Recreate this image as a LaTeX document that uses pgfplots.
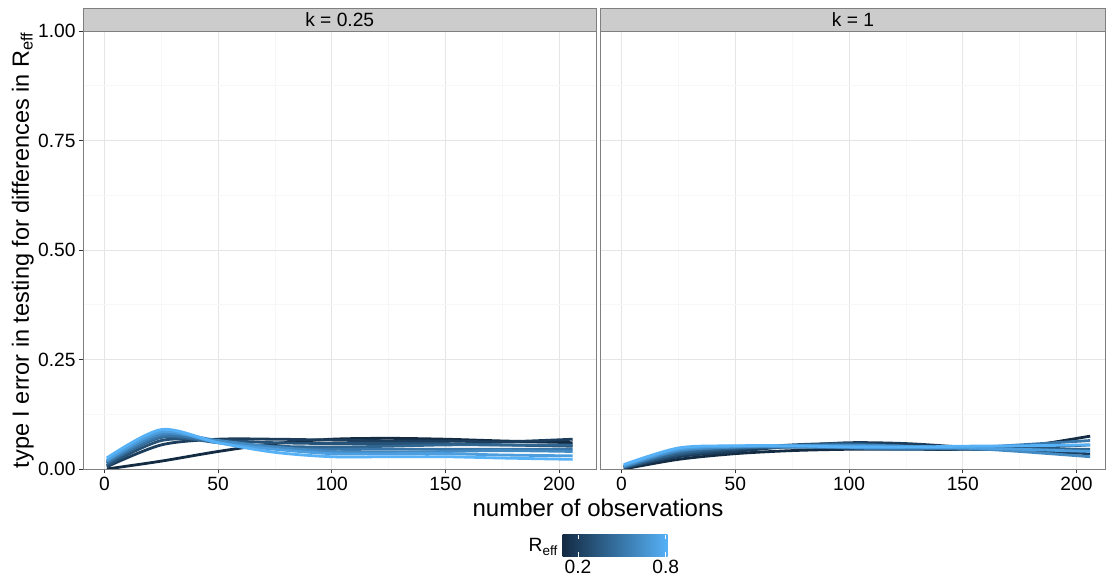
\documentclass[border=0pt]{standalone}
\usepackage{pgfplots}
\pgfplotsset{compat=1.18}
\usepackage{fontspec}
\setmainfont{Liberation Sans}
\definecolor{lo}{HTML}{132B43}
\definecolor{hi}{HTML}{56B1F7}
\colorlet{c1}{lo}
\colorlet{c2}{hi!14!lo}
\colorlet{c3}{hi!29!lo}
\colorlet{c4}{hi!43!lo}
\colorlet{c5}{hi!57!lo}
\colorlet{c6}{hi!71!lo}
\colorlet{c7}{hi!86!lo}
\colorlet{c8}{hi}
\definecolor{grey50}{HTML}{7F7F7F}
\definecolor{grey20}{HTML}{333333}
\definecolor{grey80}{HTML}{CCCCCC}
\definecolor{grey90}{HTML}{E5E5E5}
\definecolor{grey97}{HTML}{F7F7F7}
\begin{document}
\begin{tikzpicture}
\useasboundingbox (0pt,0pt) rectangle (1106pt,577pt);
\pgfplotsset{
  panel/.style={
    scale only axis, anchor=south west, height=438pt,
    xmin=-9.25, ymin=0, ymax=1,
    xtick={0,50,100,150,200}, ytick={0,0.25,0.5,0.75,1},
    minor tick num=1, grid=both,
    major grid style={color=grey90, line width=0.9pt},
    minor grid style={color=grey97, line width=0.5pt},
    axis line style={draw=grey50, line width=0.9pt},
    tick align=outside, major tick length=4.5pt, minor tick length=0pt,
    tick style={color=grey20, line width=0.9pt},
    xtick pos=bottom, ytick pos=left,
    every tick label/.append style={font=\fontsize{19.2}{23}\selectfont, text=black},
    /pgf/number format/assume math mode=true,
    yticklabel style={/pgf/number format/fixed, /pgf/number format/fixed zerofill, /pgf/number format/precision=2},
    every axis plot/.append style={line width=2.8pt, smooth, no marks},
  }
}
% k = 0.25
\begin{axis}[panel, at={(83.5pt,108pt)}, width=512.5pt, xmax=216.25]
\addplot[c1] coordinates {(1,0.000) (25,0.018) (50,0.040) (75,0.058) (100,0.068) (125,0.070) (150,0.068) (175,0.064) (206,0.060)};
\addplot[c2] coordinates {(1,0.005) (25,0.055) (50,0.068) (75,0.068) (100,0.066) (125,0.064) (150,0.064) (175,0.062) (206,0.068)};
\addplot[c3] coordinates {(1,0.008) (25,0.065) (50,0.065) (75,0.060) (100,0.058) (125,0.058) (150,0.058) (175,0.055) (206,0.052)};
\addplot[c4] coordinates {(1,0.012) (25,0.072) (50,0.060) (75,0.052) (100,0.050) (125,0.052) (150,0.055) (175,0.055) (206,0.055)};
\addplot[c5] coordinates {(1,0.015) (25,0.075) (50,0.062) (75,0.048) (100,0.045) (125,0.045) (150,0.045) (175,0.045) (206,0.045)};
\addplot[c6] coordinates {(1,0.018) (25,0.080) (50,0.065) (75,0.050) (100,0.040) (125,0.038) (150,0.040) (175,0.042) (206,0.040)};
\addplot[c7] coordinates {(1,0.020) (25,0.085) (50,0.060) (75,0.045) (100,0.035) (125,0.035) (150,0.035) (175,0.032) (206,0.030)};
\addplot[c8] coordinates {(1,0.025) (25,0.090) (50,0.060) (75,0.038) (100,0.028) (125,0.028) (150,0.028) (175,0.025) (206,0.022)};
\end{axis}
% k = 1
\begin{axis}[panel, at={(600.5pt,108pt)}, width=505pt, xmax=212.75, yticklabels={}, ytick style={draw=none}]
\addplot[c1] coordinates {(1,0.000) (25,0.022) (50,0.035) (75,0.042) (100,0.045) (125,0.045) (150,0.045) (175,0.050) (206,0.075)};
\addplot[c2] coordinates {(1,0.002) (25,0.028) (50,0.040) (75,0.052) (100,0.060) (125,0.058) (150,0.050) (175,0.042) (206,0.035)};
\addplot[c3] coordinates {(1,0.003) (25,0.032) (50,0.045) (75,0.055) (100,0.058) (125,0.052) (150,0.048) (175,0.048) (206,0.055)};
\addplot[c4] coordinates {(1,0.004) (25,0.036) (50,0.048) (75,0.050) (100,0.050) (125,0.048) (150,0.045) (175,0.045) (206,0.045)};
\addplot[c5] coordinates {(1,0.005) (25,0.040) (50,0.050) (75,0.050) (100,0.048) (125,0.045) (150,0.048) (175,0.055) (206,0.065)};
\addplot[c6] coordinates {(1,0.006) (25,0.042) (50,0.050) (75,0.053) (100,0.055) (125,0.052) (150,0.048) (175,0.040) (206,0.028)};
\addplot[c7] coordinates {(1,0.008) (25,0.045) (50,0.052) (75,0.052) (100,0.052) (125,0.050) (150,0.048) (175,0.045) (206,0.040)};
\addplot[c8] coordinates {(1,0.010) (25,0.048) (50,0.053) (75,0.053) (100,0.050) (125,0.050) (150,0.052) (175,0.053) (206,0.055)};
\end{axis}
% strips
\draw[fill=grey80, draw=grey50, line width=0.9pt] (83.5pt,546pt) rectangle (596pt,568.7pt);
\draw[fill=grey80, draw=grey50, line width=0.9pt] (600.5pt,546pt) rectangle (1105.5pt,568.7pt);
\node[font=\fontsize{19.2}{23}\selectfont] at (339.75pt,557.35pt) {k = 0.25};
\node[font=\fontsize{19.2}{23}\selectfont] at (853pt,557.35pt) {k = 1};
% axis titles
\node[rotate=90, anchor=south, inner sep=0pt, font=\fontsize{23.5}{28}\selectfont] at (34pt,327pt) {type I error in testing for differences in R\textsubscript{eff}};
\node[font=\fontsize{24}{28}\selectfont] at (598pt,69pt) {number of observations};
% colour bar legend
\shade[left color=lo, right color=hi] (562.7pt,20.3pt) rectangle (667.7pt,42pt);
\foreach \xx in {578,665.7} {
  \draw[white, line width=0.9pt] (\xx pt,20.3pt) -- (\xx pt,24.5pt);
  \draw[white, line width=0.9pt] (\xx pt,37.8pt) -- (\xx pt,42pt);
}
\node[font=\fontsize{19.2}{23}\selectfont, inner sep=0pt] at (578pt,10pt) {0.2};
\node[font=\fontsize{19.2}{23}\selectfont, inner sep=0pt] at (665.7pt,10pt) {0.8};
\node[anchor=east, font=\fontsize{19.2}{23}\selectfont, inner sep=1pt] at (559pt,30pt) {R\textsubscript{eff}};
\end{tikzpicture}
\end{document}
